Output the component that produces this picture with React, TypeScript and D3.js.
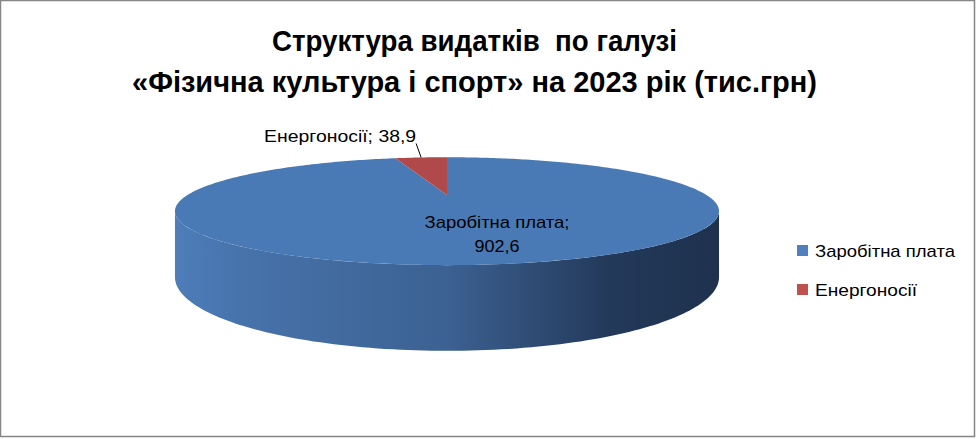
import { useRef, useEffect } from 'react';
import * as d3 from 'd3';

const categories = ['Заробітна плата', 'Енергоносії'];
const values = [902.6, 38.9];
const valueLabels = ['902,6', '38,9'];
const colors = ['#4a7ab5', '#b0494a'];
const titleLines = ['Структура видатків  по галузі', '«Фізична культура і спорт» на 2023 рік (тис.грн)'];

const W = 977;
const H = 439;

export default function App() {
    const svgRef = useRef<SVGSVGElement>(null);

    useEffect(() => {
        if (!svgRef.current) return;
        const svg = d3.select(svgRef.current);
        svg.selectAll('*').remove();

        // 3D pie geometry (simple perspective)
        const cx = 447, cy = 195, RX = 259.5, RY = 49.1, P = 0.3, depth = 60;
        const project = (a: number, r: number, h: number): [number, number] => {
            const u = r * Math.sin(a);
            const v = r * Math.cos(a);
            const s = 1 / (1 + P * v);
            return [cx + RX * u * s, cy - RY * v * s + depth * h * s];
        };
        const line = d3.line<[number, number]>();
        const sample = (a0: number, a1: number, h: number, n = 120) =>
            d3.range(n + 1).map(i => project(a0 + (a1 - a0) * i / n, 1, h));

        const font = "'Liberation Sans', Arial, sans-serif";

        svg.append('rect')
            .attr('x', 0.5).attr('y', 0.5)
            .attr('width', W - 3).attr('height', H - 3)
            .attr('fill', 'white')
            .attr('stroke', '#868686')
            .attr('stroke-width', 1.5);

        // Title
        const titleWidths = [405, 685];
        const titleBase = [51, 92];
        titleLines.forEach((t, i) => {
            svg.append('text')
                .attr('x', 474.5)
                .attr('y', titleBase[i])
                .attr('text-anchor', 'middle')
                .attr('font-family', font)
                .attr('font-weight', 'bold')
                .attr('font-size', 30)
                .attr('textLength', titleWidths[i])
                .attr('lengthAdjust', 'spacingAndGlyphs')
                .attr('fill', '#000')
                .style('white-space', 'pre')
                .text(t);
        });

        const defs = svg.append('defs');
        const grad = defs.append('linearGradient').attr('id', 'side-grad')
            .attr('gradientUnits', 'userSpaceOnUse')
            .attr('x1', cx - 272).attr('x2', cx + 272).attr('y1', 0).attr('y2', 0);
        [[0, '#4e7db9'], [0.12, '#4773ab'], [0.5, '#3c6192'], [0.8, '#23395a'], [1, '#1e324e']]
            .forEach(([o, c]) => grad.append('stop').attr('offset', o as number).attr('stop-color', c as string));

        // Side wall (front half)
        const aR = Math.acos(-P);
        const aL = 2 * Math.PI - aR;
        const sidePts = sample(aR, aL, 0).concat(sample(aR, aL, 1).reverse());
        svg.append('path')
            .attr('d', line(sidePts) + 'Z')
            .attr('fill', 'url(#side-grad)');

        // Top slices
        const pie = d3.pie<number>().sort(null).startAngle(0).endAngle(2 * Math.PI);
        const arcs = pie(values);
        arcs.forEach((d, i) => {
            const n = Math.max(4, Math.round((d.endAngle - d.startAngle) * 60));
            const pts: [number, number][] = [[cx, cy], ...sample(d.startAngle, d.endAngle, 0, n)];
            svg.append('path')
                .attr('d', line(pts) + 'Z')
                .attr('fill', colors[i]);
        });

        // Data labels
        const small = arcs[1];
        const mid = (small.startAngle + small.endAngle) / 2;
        const anchor = project(mid, 1, 0);
        svg.append('line')
            .attr('x1', anchor[0]).attr('y1', anchor[1])
            .attr('x2', anchor[0] - 5).attr('y2', anchor[1] - 14)
            .attr('stroke', '#000').attr('stroke-width', 1);
        svg.append('text')
            .attr('x', anchor[0] - 5)
            .attr('y', anchor[1] - 15)
            .attr('text-anchor', 'end')
            .attr('font-family', font)
            .attr('font-size', 17)
            .attr('textLength', 152)
            .attr('lengthAdjust', 'spacingAndGlyphs')
            .attr('fill', '#000')
            .text(`${categories[1]}; ${valueLabels[1]}`);

        const bigLabel = svg.append('g').attr('transform', `translate(${cx + 50},${cy})`);
        bigLabel.append('text')
            .attr('x', 0).attr('y', 33)
            .attr('text-anchor', 'middle')
            .attr('font-family', font)
            .attr('font-size', 17)
            .attr('textLength', 145)
            .attr('lengthAdjust', 'spacingAndGlyphs')
            .attr('fill', '#000')
            .text(`${categories[0]};`);
        bigLabel.append('text')
            .attr('x', 0).attr('y', 57)
            .attr('text-anchor', 'middle')
            .attr('font-family', font)
            .attr('font-size', 17)
            .attr('textLength', 45)
            .attr('lengthAdjust', 'spacingAndGlyphs')
            .attr('fill', '#000')
            .text(valueLabels[0]);

        // Legend
        const legendWidths = [140, 102];
        const legendY = d3.scalePoint<string>().domain(categories).range([257, 296]);
        categories.forEach((c, i) => {
            const y = legendY(c) ?? 0;
            svg.append('rect')
                .attr('x', 797).attr('y', y - 12)
                .attr('width', 11).attr('height', 11)
                .attr('fill', i === 0 ? '#4f81bd' : '#c0504d');
            svg.append('text')
                .attr('x', 815).attr('y', y)
                .attr('font-family', font)
                .attr('font-size', 17)
                .attr('textLength', legendWidths[i])
                .attr('lengthAdjust', 'spacingAndGlyphs')
                .attr('fill', '#000')
                .text(c);
        });
    }, []);

    return (
        <svg ref={svgRef} width={W} height={H}
            style={{ position: 'absolute', left: 0, top: 0, display: 'block' }} />
    );
}
